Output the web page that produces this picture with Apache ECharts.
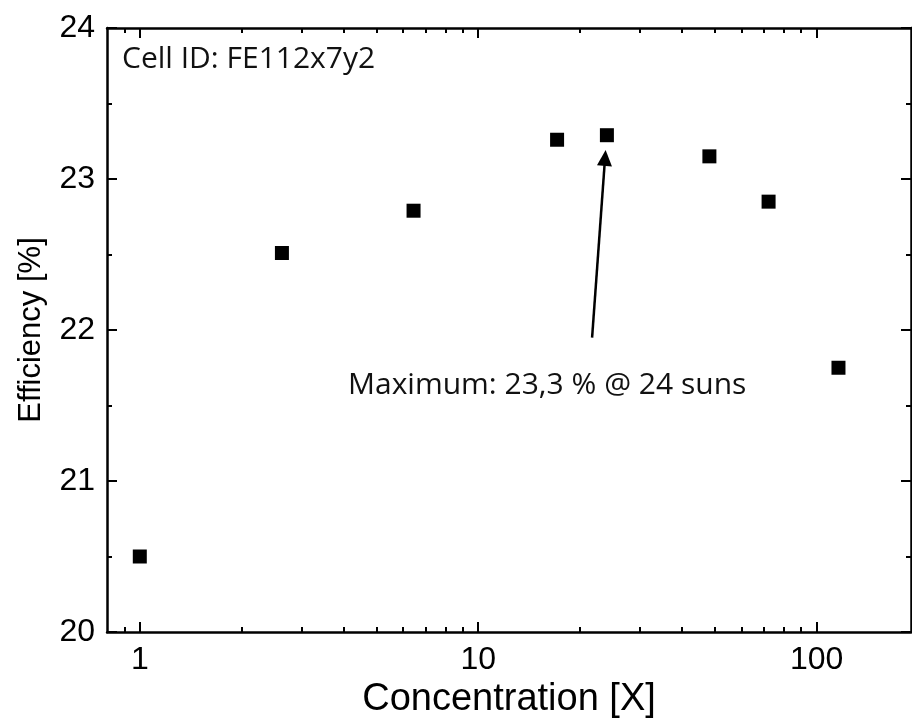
<!DOCTYPE html>
<html>
<head>
<meta charset="utf-8">
<script src="https://cdn.jsdelivr.net/npm/echarts@6/dist/echarts.min.js"></script>
<style>
  html, body { margin: 0; padding: 0; background: #fff; }
  #root { width: 912px; height: 723px; }
</style>
</head>
<body>
<div id="root"></div>
<script>
// concentration (suns) and efficiency (%)
const concentration = [1.0, 2.63, 6.44, 17.1, 24, 48.2, 72.1, 116];
const efficiency = [20.50, 22.51, 22.79, 23.26, 23.29, 23.15, 22.85, 21.75];

const xMajorTicks = [1, 10, 100];
const xMinorTicks = [0.9, 2, 3, 4, 5, 6, 7, 8, 9, 20, 30, 40, 50, 60, 70, 80, 90];

// arrow from the label up to the maximum
const arrowFrom = [21.7, 21.95];
const arrowTo = [23.7, 23.14];

const cellId = "Cell ID: FE112x7y2";
const maxNote = "Maximum: 23,3 % @ 24 suns";

const axisFont = "Liberation Sans, Arial, sans-serif";
const noteFont = "Open Sans, Noto Sans, sans-serif";

const myChart = echarts.init(document.getElementById("root"));

const xBase = {
  type: "log",
  logBase: 10,
  min: 0.8,
  max: 190,
  gridIndex: 0,
  splitLine: { show: false },
  minorTick: { show: false },
  axisLine: { show: false },
  axisLabel: { show: false },
};

function xAxis(position, values, len, extra) {
  return Object.assign({}, xBase, {
    position: position,
    axisTick: { show: true, inside: true, length: len, customValues: values,
      lineStyle: { color: "#000", width: 2 } },
  }, extra || {});
}

function yAxis(position, extra) {
  return Object.assign({
    type: "value",
    position: position,
    min: 20,
    max: 24,
    interval: 1,
    splitLine: { show: false },
    axisLine: { show: true, onZero: false, lineStyle: { color: "#000", width: 2.5 } },
    axisTick: { show: true, inside: true, length: 10, lineStyle: { color: "#000", width: 2 } },
    minorTick: { show: true, splitNumber: 2, length: 5, lineStyle: { color: "#000", width: 2 } },
    axisLabel: { show: false },
  }, extra || {});
}

const option = {
  animation: false,
  grid: { left: 107, right: 1, top: 28, bottom: 91, containLabel: false, outerBoundsMode: "none" },
  xAxis: [
    xAxis("bottom", xMajorTicks, 10, {
      axisLine: { show: true, onZero: false, lineStyle: { color: "#000", width: 2.5 } },
      axisLabel: { show: true, customValues: xMajorTicks, color: "#000", fontSize: 32,
        fontFamily: axisFont, margin: 12 },
      name: "Concentration [X]",
      nameLocation: "middle",
      nameGap: 48,
      nameTextStyle: { color: "#000", fontSize: 38, fontFamily: axisFont },
    }),
    xAxis("bottom", xMinorTicks, 5),
    xAxis("top", xMajorTicks, 10, {
      axisLine: { show: true, onZero: false, lineStyle: { color: "#000", width: 2.5 } },
    }),
    xAxis("top", xMinorTicks, 5),
  ],
  yAxis: [
    yAxis("left", {
      axisLabel: { show: true, color: "#000", fontSize: 32, fontFamily: axisFont, margin: 12 },
      name: "Efficiency [%]",
      nameLocation: "middle",
      nameGap: 60,
      nameTextStyle: { color: "#000", fontSize: 31, fontFamily: axisFont },
    }),
    yAxis("right"),
  ],
  graphic: [
    {
      type: "text",
      left: 122,
      top: 44,
      style: { text: cellId, fill: "#111", font: "30px " + noteFont },
    },
    {
      type: "text",
      left: 348,
      top: 370,
      style: { text: maxNote, fill: "#111", font: "30px " + noteFont },
    },
  ],
  series: [
    {
      type: "scatter",
      xAxisIndex: 0,
      yAxisIndex: 0,
      symbol: "rect",
      symbolSize: 14,
      itemStyle: { color: "#000", opacity: 1 },
      data: concentration.map((c, i) => [c, efficiency[i]]),
      markLine: {
        silent: true,
        symbol: ["none", "triangle"],
        symbolSize: [15, 16],
        label: { show: false },
        lineStyle: { color: "#000", width: 2.5, type: "solid" },
        data: [[{ coord: arrowFrom }, { coord: arrowTo }]],
      },
    },
  ],
};

myChart.setOption(option);
</script>
</body>
</html>
